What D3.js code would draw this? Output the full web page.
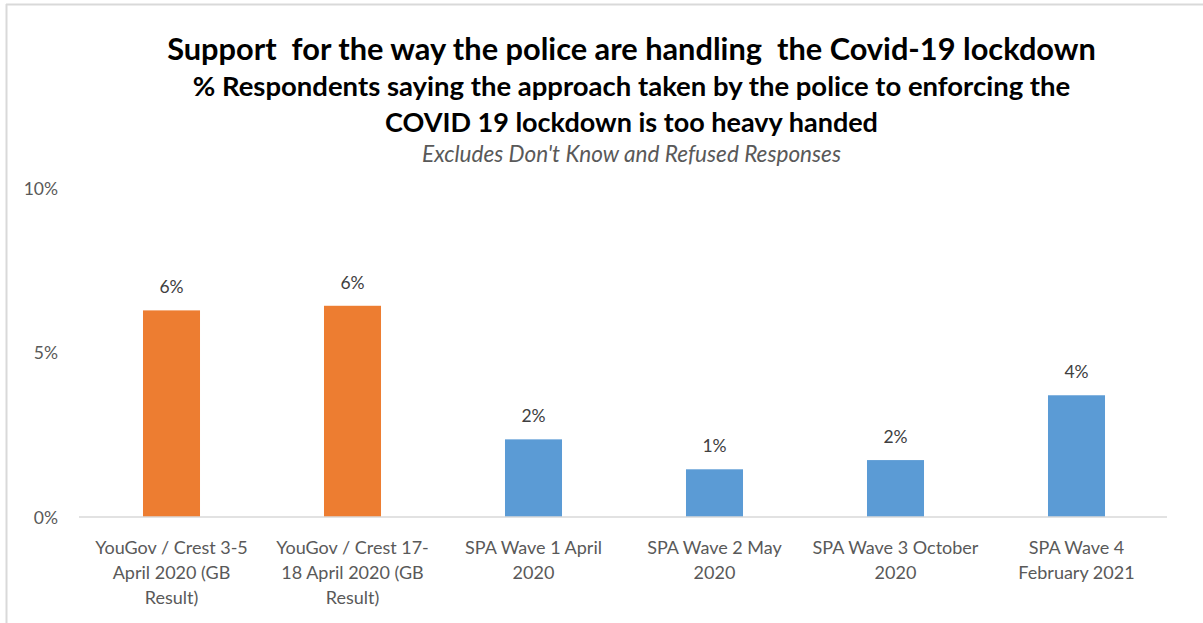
<!DOCTYPE html>
<html>
<head>
<meta charset="utf-8">
<script src="https://cdn.jsdelivr.net/npm/d3@7"></script>
<style>
  html, body { margin: 0; padding: 0; background: #fff; }
  svg { display: block; font-family: Lato, "Open Sans", sans-serif; }
  text { white-space: pre; }
</style>
</head>
<body>
<svg id="chart" width="1203" height="623"></svg>
<script>
// Survey waves (label lines separated by \n)
const categories = [
  "YouGov / Crest 3-5\nApril 2020 (GB\nResult)",
  "YouGov / Crest 17-\n18 April 2020 (GB\nResult)",
  "SPA Wave 1 April\n2020",
  "SPA Wave 2 May\n2020",
  "SPA Wave 3 October\n2020",
  "SPA Wave 4\nFebruary 2021"
];
// Share saying policing is too heavy handed
const values = [0.0628, 0.0642, 0.0236, 0.0145, 0.0173, 0.0370];
// Source group: YouGov polls vs SPA waves
const sources = ["YouGov", "YouGov", "SPA", "SPA", "SPA", "SPA"];
const yTicks = [0, 0.05, 0.10];

const titleLines = [
  "Support  for the way the police are handling  the Covid-19 lockdown",
  "% Respondents saying the approach taken by the police to enforcing the",
  "COVID 19 lockdown is too heavy handed"
];
const subtitle = "Excludes Don't Know and Refused Responses";

const svg = d3.select("#chart");

// outer frame (top and left edges)
svg.append("line").attr("x1", 6).attr("x2", 1203).attr("y1", 4.5).attr("y2", 4.5)
  .attr("stroke", "#d9d9d9").attr("stroke-width", 2);
svg.append("line").attr("x1", 6.5).attr("x2", 6.5).attr("y1", 4).attr("y2", 623)
  .attr("stroke", "#d9d9d9").attr("stroke-width", 2);

// fit a text element to a given width by scaling its font size
function fitWidth(sel, width) {
  const w = sel.node().getComputedTextLength();
  const fs = parseFloat(sel.attr("font-size"));
  sel.attr("font-size", fs * width / w);
}

const cx = 631.5;
const t1 = svg.append("text").attr("x", cx).attr("y", 60).attr("text-anchor", "middle")
  .attr("font-weight", 700).attr("font-size", 26).attr("fill", "#000").text(titleLines[0]);
fitWidth(t1, 929);
const t2 = svg.append("text").attr("x", cx).attr("y", 96).attr("text-anchor", "middle")
  .attr("font-weight", 700).attr("font-size", 22).attr("fill", "#000").text(titleLines[1]);
fitWidth(t2, 878);
const t3 = svg.append("text").attr("x", cx).attr("y", 132).attr("text-anchor", "middle")
  .attr("font-weight", 700).attr("font-size", 22).attr("fill", "#000").text(titleLines[2]);
fitWidth(t3, 493);
const st = svg.append("text").attr("x", cx).attr("y", 162).attr("text-anchor", "middle")
  .attr("font-style", "italic").attr("font-size", 16).attr("fill", "#595959").text(subtitle);
fitWidth(st, 419);

// scales
const x = d3.scaleBand().domain(categories).range([81, 1167]).paddingInner(0.685).paddingOuter(0.3425);
const y = d3.scaleLinear().domain([0, 0.10]).range([517, 188]);
const color = d3.scaleOrdinal().domain(["YouGov", "SPA"]).range(["#ED7D31", "#5B9BD5"]);

// y axis labels
const yAxis = svg.append("g").attr("transform", "translate(58,0)")
  .call(d3.axisLeft(y).tickValues(yTicks).tickFormat(d3.format(".0%")).tickSize(0).tickPadding(0));
yAxis.select(".domain").remove();
yAxis.selectAll("text").attr("font-family", "Lato, 'Open Sans', sans-serif")
  .attr("font-size", 17.5).attr("fill", "#595959").attr("dy", "0.36em");

// bars
svg.append("g").selectAll("rect").data(values).join("rect")
  .attr("x", (d, i) => x(categories[i]))
  .attr("width", x.bandwidth())
  .attr("y", d => y(d))
  .attr("height", d => y(0) - y(d))
  .attr("fill", (d, i) => color(sources[i]));

// value labels
svg.append("g").selectAll("text").data(values).join("text")
  .attr("x", (d, i) => x(categories[i]) + x.bandwidth() / 2)
  .attr("y", d => y(d) - 17)
  .attr("text-anchor", "middle")
  .attr("font-size", 17.5).attr("fill", "#404040")
  .text(d => d3.format(".0%")(d));

// x axis baseline
const xAxis = svg.append("g").attr("transform", `translate(0,${y(0)})`)
  .call(d3.axisBottom(x).tickSize(0).tickFormat(""));
xAxis.select(".domain").attr("stroke", "#d9d9d9").attr("stroke-width", 1.5)
  .attr("d", "M79,0H1167");

// category labels
const cat = svg.append("g").selectAll("text").data(categories).join("text")
  .attr("x", d => x(d) + x.bandwidth() / 2)
  .attr("y", 554)
  .attr("text-anchor", "middle")
  .attr("font-size", 18).attr("fill", "#595959");
cat.selectAll("tspan").data(d => d.split("\n")).join("tspan")
  .attr("x", function () { return d3.select(this.parentNode).attr("x"); })
  .attr("dy", (d, i) => i === 0 ? 0 : 25)
  .text(d => d);
</script>
</body>
</html>
